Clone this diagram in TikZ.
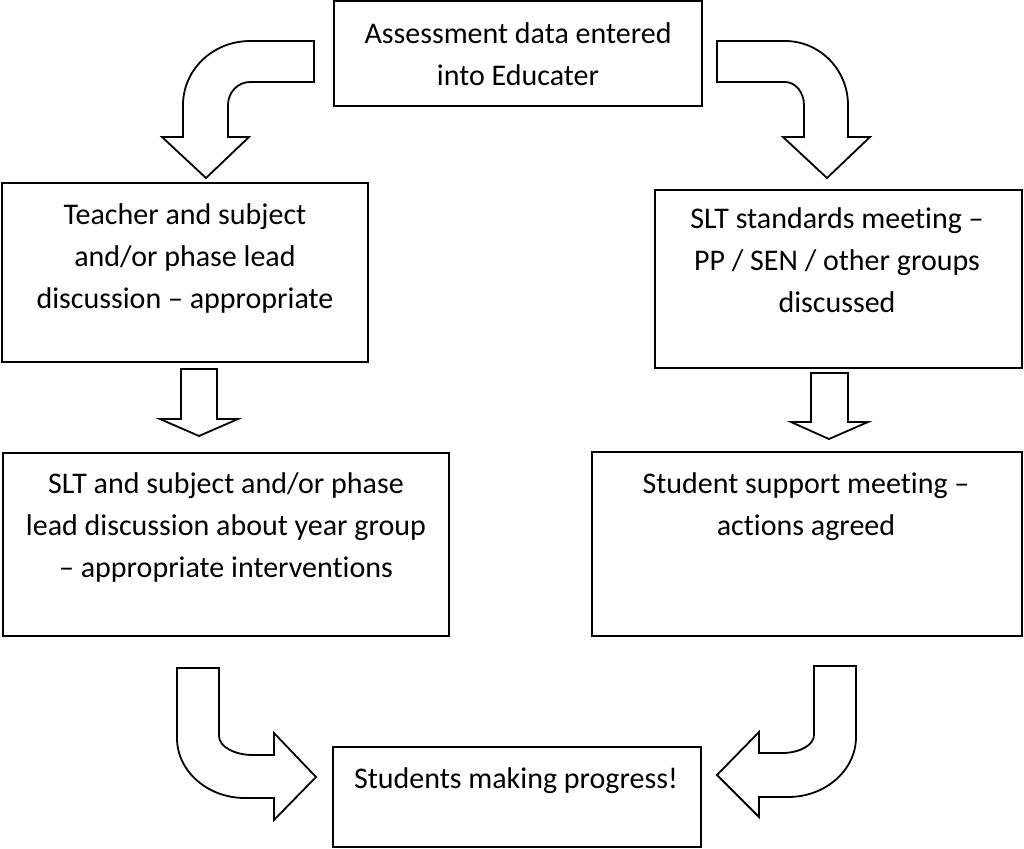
\documentclass[tikz,border=0pt]{standalone}
\usepackage{fontspec}
\setmainfont{Carlito}[Ligatures=NoCommon]
\usetikzlibrary{fit}

\tikzset{
  stage/.style={draw, line width=1pt, inner sep=0pt},
  stagetext/.style={anchor=base, align=center, font=\fontsize{15}{21}\selectfont},
  bigarrow/.style={draw, fill=white, line width=0.9pt},
}

\begin{document}
\begin{tikzpicture}[x=0.5pt,y=-0.5pt]
    \useasboundingbox (0,0) rectangle (1024,848);

    % boxes
    \node [stage, fit={(334,1) (702,106)}]    (data)     {};
    \node [stage, fit={(2,183) (368,362)}]    (teach)    {};
    \node [stage, fit={(655,190) (1022,368)}] (slt)      {};
    \node [stage, fit={(3,453) (449,636)}]    (lead)     {};
    \node [stage, fit={(592,452) (1022,636)}] (support)  {};
    \node [stage, fit={(333,747) (701,847)}]  (progress) {};

    % texts, placed on the baseline of their last line
    \node [stagetext] (datatext)     at (518,85)  {Assessment data entered\\into Educater};
    \node [stagetext] (teachtext)    at (185,308) {Teacher and subject\\and/or phase lead\\discussion – appropriate};
    \node [stagetext] (slttext)      at (837,312) {SLT standards meeting –\\PP / SEN / other groups\\discussed};
    \node [stagetext] (leadtext)     at (226,577) {SLT and subject and/or phase\\lead discussion about year group\\– appropriate interventions};
    \node [stagetext] (supporttext)  at (806,535) {Student support meeting –\\actions agreed};
    \node [stagetext] (progresstext) at (516,788) {Students making progress!};

    % curved arrows at the top
    \draw [bigarrow] (314,41) -- (250,41) arc [start angle=270, end angle=180, x radius=67, y radius=64]
      -- (183,137) -- (162,137) -- (206,178) -- (249,137) -- (228,137) -- (228,105)
      arc [start angle=180, end angle=270, x radius=22, y radius=23] -- (314,82) -- cycle;
    \draw [bigarrow] (717,41) -- (785,41) arc [start angle=270, end angle=360, x radius=63, y radius=64]
      -- (848,137) -- (870,137) -- (827,178) -- (783,137) -- (804,137) -- (804,105)
      arc [start angle=0, end angle=-90, x radius=19, y radius=23] -- (717,82) -- cycle;

    % straight arrows
    \draw [bigarrow] (181,369) -- (217,369) -- (217,419) -- (238,419) -- (199,436) -- (160,419) -- (181,419) -- cycle;
    \draw [bigarrow] (811,373) -- (848,373) -- (848,422) -- (868,422) -- (829,439) -- (791,422) -- (811,422) -- cycle;

    % curved arrows at the bottom
    \draw [bigarrow] (177,668) -- (219,668) -- (219,736)
      arc [start angle=180, end angle=90, x radius=34, y radius=19]
      -- (274,755) -- (274,733) -- (316,777) -- (274,820) -- (274,798) -- (245,798)
      arc [start angle=90, end angle=180, x radius=68, y radius=60] -- cycle;
    \draw [bigarrow] (856,666) -- (814,666) -- (814,735)
      arc [start angle=0, end angle=90, x radius=32, y radius=18]
      -- (759,753) -- (759,732) -- (717,775) -- (759,817) -- (759,797) -- (788,797)
      arc [start angle=90, end angle=0, x radius=68, y radius=60] -- cycle;

\end{tikzpicture}
\end{document}
